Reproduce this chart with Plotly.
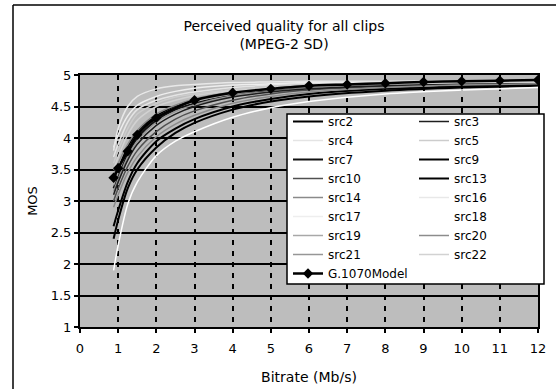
import plotly.graph_objects as go

# ---------------- data ----------------
bitrate = [0.88, 1, 1.25, 1.5, 2, 2.5, 3, 4, 5, 6, 8, 10, 12]

src2  = [3.30, 3.50, 3.85, 4.10, 4.35, 4.50, 4.60, 4.72, 4.78, 4.82, 4.86, 4.88, 4.89]
src3  = [3.10, 3.30, 3.65, 3.90, 4.20, 4.38, 4.50, 4.65, 4.73, 4.78, 4.83, 4.86, 4.87]
src4  = [3.70, 3.90, 4.25, 4.45, 4.60, 4.68, 4.73, 4.80, 4.84, 4.86, 4.88, 4.89, 4.90]
src5  = [3.60, 3.80, 4.15, 4.38, 4.55, 4.65, 4.70, 4.77, 4.82, 4.85, 4.87, 4.88, 4.89]
src7  = [3.20, 3.40, 3.75, 4.00, 4.28, 4.45, 4.55, 4.68, 4.75, 4.80, 4.85, 4.87, 4.88]
src9  = [2.40, 2.70, 3.20, 3.50, 3.85, 4.08, 4.24, 4.45, 4.58, 4.66, 4.75, 4.80, 4.83]
src10 = [3.00, 3.20, 3.55, 3.80, 4.10, 4.30, 4.43, 4.60, 4.70, 4.76, 4.82, 4.85, 4.87]
src13 = [2.60, 2.85, 3.30, 3.60, 3.95, 4.15, 4.30, 4.50, 4.62, 4.70, 4.78, 4.82, 4.85]
src14 = [3.40, 3.60, 3.90, 4.12, 4.38, 4.52, 4.62, 4.73, 4.79, 4.83, 4.86, 4.88, 4.89]
src16 = [3.80, 4.15, 4.50, 4.66, 4.78, 4.83, 4.85, 4.88, 4.89, 4.90, 4.90, 4.91, 4.91]
src17 = [3.85, 4.05, 4.35, 4.52, 4.66, 4.74, 4.79, 4.84, 4.86, 4.88, 4.89, 4.90, 4.90]
src18 = [1.90, 2.30, 2.95, 3.30, 3.72, 3.95, 4.10, 4.33, 4.48, 4.58, 4.70, 4.76, 4.80]
src19 = [3.25, 3.45, 3.80, 4.05, 4.32, 4.48, 4.58, 4.70, 4.77, 4.81, 4.85, 4.87, 4.88]
src20 = [2.90, 3.10, 3.45, 3.70, 4.02, 4.22, 4.36, 4.55, 4.66, 4.73, 4.80, 4.84, 4.86]
src21 = [3.15, 3.35, 3.70, 3.95, 4.25, 4.42, 4.53, 4.67, 4.74, 4.79, 4.84, 4.86, 4.88]
src22 = [3.50, 3.70, 4.05, 4.28, 4.50, 4.60, 4.67, 4.75, 4.80, 4.83, 4.86, 4.88, 4.89]

model_bitrate = [0.88, 1, 1.25, 1.5, 2, 3, 4, 5, 6, 7, 8, 9, 10, 11, 12]
model_mos     = [3.37, 3.52, 3.79, 4.05, 4.32, 4.60, 4.72, 4.78, 4.83, 4.85, 4.87, 4.89, 4.90, 4.91, 4.92]

x_ticks = list(range(0, 13))
y_ticks = [1, 1.5, 2, 2.5, 3, 3.5, 4, 4.5, 5]
y_tick_labels = ["1", "1.5", "2", "2.5", "3", "3.5", "4", "4.5", "5"]

# (name, values, colour, width, legend)
series = [
    ("src2", src2, "#000000", 2.0, "legend"),
    ("src4", src4, "#e4e4e4", 1.5, "legend"),
    ("src7", src7, "#111111", 2.0, "legend"),
    ("src10", src10, "#505050", 1.5, "legend"),
    ("src14", src14, "#8a8a8a", 1.5, "legend"),
    ("src17", src17, "#eeeeee", 1.5, "legend"),
    ("src19", src19, "#a8a8a8", 1.5, "legend"),
    ("src21", src21, "#969696", 1.5, "legend"),
    ("src3", src3, "#1e1e1e", 1.5, "legend2"),
    ("src5", src5, "#cccccc", 1.5, "legend2"),
    ("src9", src9, "#000000", 2.0, "legend2"),
    ("src13", src13, "#000000", 2.0, "legend2"),
    ("src16", src16, "#e8e8e8", 1.5, "legend2"),
    ("src18", src18, "#ffffff", 1.5, "legend2"),
    ("src20", src20, "#8c8c8c", 1.5, "legend2"),
    ("src22", src22, "#d2d2d2", 1.5, "legend2"),
]

FONT = "DejaVu Sans"

fig = go.Figure()
for name, vals, col, w, lg in series:
    fig.add_trace(go.Scatter(
        x=bitrate, y=vals, name=name, mode="lines",
        line=dict(color=col, width=w, shape="spline", smoothing=0.8),
        legend=lg,
    ))

fig.add_trace(go.Scatter(
    x=model_bitrate, y=model_mos, name="G.1070Model", mode="lines+markers",
    line=dict(color="#000000", width=2.5, shape="spline", smoothing=0.8),
    marker=dict(symbol="diamond", size=8, color="#000000"),
    legend="legend",
))

W, H = 556, 389
L, R, T, B = 80, 18, 75, 62
pw, ph = W - L - R, H - T - B

def px_x(p):
    return (p - L) / pw

def px_y(p):
    return (H - B - p) / ph

shapes = [
    # outer chart-area border (left and top edges; the rest is cropped away)
    dict(type="line", xref="paper", yref="paper",
         x0=px_x(13), x1=px_x(13), y0=px_y(5), y1=px_y(389),
         line=dict(color="black", width=1.5)),
    dict(type="line", xref="paper", yref="paper",
         x0=px_x(13), x1=px_x(556), y0=px_y(5), y1=px_y(5),
         line=dict(color="black", width=1.5)),
    # legend box
    dict(type="rect", xref="paper", yref="paper",
         x0=px_x(287), x1=px_x(544), y0=px_y(114), y1=px_y(284),
         line=dict(color="black", width=1.5), fillcolor="white", layer="above"),
]

fig.update_layout(
    width=W, height=H,
    margin=dict(l=L, r=R, t=T, b=B, autoexpand=False),
    paper_bgcolor="white",
    plot_bgcolor="#bdbdbd",
    font=dict(family=FONT, size=13, color="black"),
    title=dict(
        text="Perceived quality for all clips<br>(MPEG-2 SD)",
        x=284 / W, xanchor="center", xref="container",
        y=1 - 31 / H, yanchor="top", yref="container",
        font=dict(family=FONT, size=14, color="black"),
    ),
    xaxis=dict(
        range=[0, 12], tickmode="array", tickvals=x_ticks,
        ticks="outside", ticklen=4, tickwidth=1.5, tickcolor="black",
        ticklabelstandoff=4,
        showline=True, linecolor="black", linewidth=2, mirror=True,
        showgrid=True, gridcolor="black", gridwidth=2, griddash="5px,6px",
        zeroline=False,
        title=dict(text="Bitrate (Mb/s)", standoff=18, font=dict(family=FONT, size=14)),
        tickfont=dict(family=FONT, size=13),
    ),
    yaxis=dict(
        range=[1, 5], tickmode="array", tickvals=y_ticks, ticktext=y_tick_labels,
        ticks="outside", ticklen=4, tickwidth=1.5, tickcolor="black",
        showline=True, linecolor="black", linewidth=2, mirror=True,
        showgrid=True, gridcolor="black", gridwidth=2,
        zeroline=False,
        title=dict(text="MOS", standoff=10, font=dict(family=FONT, size=13)),
        tickfont=dict(family=FONT, size=13),
    ),
    legend=dict(
        x=px_x(288), y=px_y(107), xanchor="left", yanchor="top",
        bgcolor="rgba(0,0,0,0)", borderwidth=0,
        font=dict(family=FONT, size=12), tracegroupgap=0,
    ),
    legend2=dict(
        x=px_x(414), y=px_y(107), xanchor="left", yanchor="top",
        bgcolor="rgba(0,0,0,0)", borderwidth=0,
        font=dict(family=FONT, size=12), tracegroupgap=0,
    ),
    shapes=shapes,
    showlegend=True,
)

fig.write_html(
    "out.html",
    config={"displayModeBar": False},
    post_script=(
        "document.documentElement.style.overflow='hidden';"
        "document.body.style.margin='0';document.body.style.padding='0';"
        "document.body.style.overflow='hidden';"
    ),
)
